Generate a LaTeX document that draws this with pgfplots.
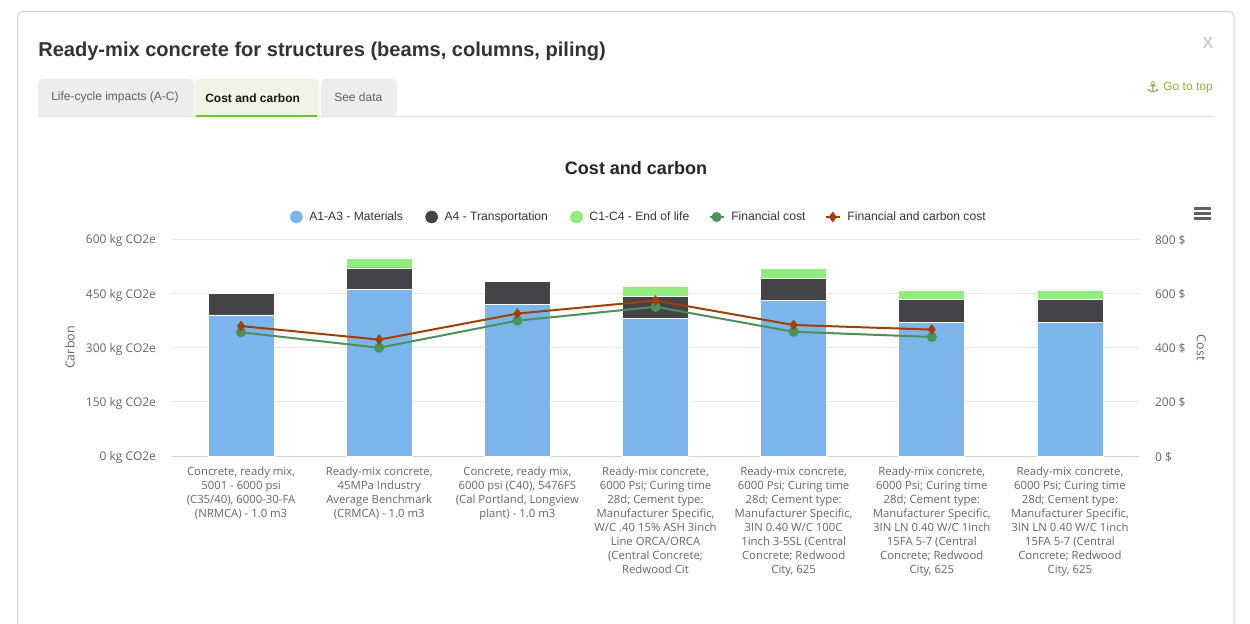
\documentclass[border=0pt]{standalone}
\usepackage{fontspec}
\usepackage{pgfplots}
\pgfplotsset{compat=1.18}
\setmainfont{Liberation Sans}
\newfontfamily\lab{Open Sans}
\newfontfamily\sym{DejaVu Sans}
\definecolor{cMat}{HTML}{7CB5EC}
\definecolor{cTrans}{HTML}{434348}
\definecolor{cEnd}{HTML}{90ED7D}
\definecolor{cFin}{HTML}{4C9159}
\definecolor{cCarb}{HTML}{A04000}
\definecolor{cGrid}{HTML}{E6E6E6}
\definecolor{cAxis}{HTML}{CCD6EB}
\definecolor{cTick}{HTML}{666666}
\definecolor{cText}{HTML}{333333}
\definecolor{cLime}{HTML}{8DB33C}
\pgfplotsset{
  dotlegend/.style={legend image code/.code={\fill[##1] (0pt,0pt) circle (4.5pt);}},
  linelegend/.style={legend image code/.code={%
    \draw[mark repeat=2,mark phase=2,##1] plot coordinates {(0pt,0pt) (5.25pt,0pt) (10.5pt,0pt)};}},
  common/.style={
    scale only axis, width=725.25pt, height=162.75pt,
    at={(129pt,-342pt)}, anchor=south west,
    xmin=-0.5, xmax=6.5, ymin=0,
    xtick style={draw=none}, ytick style={draw=none},
    xticklabel style={font=\lab\fontsize{8.5}{10.55}\selectfont, text=cTick},
    yticklabel style={font=\lab\fontsize{9}{11}\selectfont, text=cTick},
    label style={font=\lab\fontsize{9.4}{11}\selectfont, text=cTick},
  },
}
\begin{document}
\begin{tikzpicture}
\path[use as bounding box, fill=white] (0pt,0pt) rectangle (937.5pt,-468pt);
% page furniture, coordinates in reference pixels
\begin{scope}[x=0.75pt,y=-0.75pt]
  \draw[black!18, line width=0.75pt, rounded corners=4pt] (17.5,623.5) -- (17.5,11.5) -- (1234,11.5) -- (1234,623.5);
  \node[anchor=west, inner sep=0pt, text=cText, font=\bfseries\fontsize{15.05}{18}\selectfont] at (38,51.5) {Ready-mix concrete for structures (beams, columns, piling)};
  \fill[black!7] (38,116) [rounded corners=3pt] -- (38,79) -- (194,79) -- (194,116) [sharp corners] -- cycle;
  \fill[cLime!14] (195,116) [rounded corners=3pt] -- (195,79) -- (319,79) -- (319,116) [sharp corners] -- cycle;
  \fill[black!7] (321,116) [rounded corners=3pt] -- (321,79) -- (397,79) -- (397,116) [sharp corners] -- cycle;
  \draw[black!12, line width=0.75pt] (38,116.5) -- (1214,116.5);
  \draw[cLime!80!green, line width=1.5pt] (196,116) -- (317,116);
  \node[anchor=west, inner sep=0pt, text=black!62, font=\fontsize{9}{11}\selectfont] at (51,97) {Life-cycle impacts (A-C)};
  \node[anchor=west, inner sep=0pt, text=black!90, font=\bfseries\fontsize{9}{11}\selectfont] at (205,98) {Cost and carbon};
  \node[anchor=west, inner sep=0pt, text=black!62, font=\fontsize{9}{11}\selectfont] at (334,97) {See data};
  \node[anchor=east, inner sep=0pt, text=cLime, font=\fontsize{9}{11}\selectfont] at (1213,88) {Go to top};
  \node[inner sep=0pt, text=cLime!85!black, font=\sym\bfseries\fontsize{11}{13}\selectfont] at (1153,87) {⚓};
  \node[inner sep=0pt, text=black!20, font=\bfseries\fontsize{12}{14}\selectfont] at (1208,42.5) {X};
  \node[inner sep=0pt, text=black!85, font=\bfseries\fontsize{13.5}{16}\selectfont] at (636,168) {Cost and carbon};
  \draw[black!62, line width=2.1pt] (1194,208.5) -- (1211,208.5) (1194,213.5) -- (1211,213.5) (1194,218.5) -- (1211,218.5);
\end{scope}
% stacked carbon bars
\begin{axis}[common,
  ymax=600,
  ybar stacked, bar width=49.5pt,
  xtick={0,...,6},
  xticklabels={
    {Concrete, ready mix,\\5001 - 6000 psi\\(C35/40), 6000-30-FA\\(NRMCA) - 1.0 m3},
    {Ready-mix concrete,\\45MPa Industry\\Average Benchmark\\(CRMCA) - 1.0 m3},
    {Concrete, ready mix,\\6000 psi (C40), 5476FS\\(Cal Portland, Longview\\plant) - 1.0 m3},
    {Ready-mix concrete,\\6000 Psi; Curing time\\28d; Cement type:\\Manufacturer Specific,\\W/C .40 15\% ASH 3inch\\Line ORCA/ORCA\\(Central Concrete;\\Redwood Cit},
    {Ready-mix concrete,\\6000 Psi; Curing time\\28d; Cement type:\\Manufacturer Specific,\\3IN 0.40 W/C 100C\\1inch 3-5SL (Central\\Concrete; Redwood\\City, 625},
    {Ready-mix concrete,\\6000 Psi; Curing time\\28d; Cement type:\\Manufacturer Specific,\\3IN LN 0.40 W/C 1inch\\15FA 5-7 (Central\\Concrete; Redwood\\City, 625},
    {Ready-mix concrete,\\6000 Psi; Curing time\\28d; Cement type:\\Manufacturer Specific,\\3IN LN 0.40 W/C 1inch\\15FA 5-7 (Central\\Concrete; Redwood\\City, 625}},
  xticklabel style={align=center, anchor=north, yshift=-4.5pt},
  ytick={0,150,300,450,600},
  yticklabels={0 kg CO2e,150 kg CO2e,300 kg CO2e,450 kg CO2e,600 kg CO2e},
  yticklabel style={xshift=-8.5pt, yshift=-1.3pt},
  ymajorgrids, grid style={cGrid, line width=0.75pt},
  axis x line*=bottom, axis y line*=left,
  x axis line style={draw=cAxis, line width=0.75pt, -},
  y axis line style={draw=none},
  ylabel={Carbon},
  ylabel style={at={(axis description cs:-0.1055,0.5)}, anchor=center, rotate=0},
]
\addplot[fill=cMat, draw=white, line width=0.6pt] coordinates {(0,390) (1,460) (2,420) (3,380) (4,430) (5,370) (6,370)};
\addplot[fill=cTrans, draw=white, line width=0.6pt] coordinates {(0,60) (1,60) (2,63) (3,60) (4,60) (5,62) (6,62)};
\addplot[fill=cEnd, draw=white, line width=0.6pt] coordinates {(0,0) (1,27) (2,0) (3,28) (4,29) (5,27) (6,27)};
\end{axis}
% cost lines, right axis
\begin{axis}[common,
  ymax=800,
  xtick=\empty,
  ytick={0,200,400,600,800},
  yticklabels={0 \$,200 \$,400 \$,600 \$,800 \$},
  yticklabel style={xshift=8.5pt, yshift=-0.6pt},
  axis x line=none, axis y line*=right,
  y axis line style={draw=none},
  ylabel={Cost},
  ylabel style={at={(axis description cs:1.0645,0.5)}, anchor=center, rotate=180},
  legend columns=-1,
  legend cell align=left,
  legend style={draw=none, fill=none, at={(0.4832,1.1015)}, anchor=center,
    font=\fontsize{9.1}{11}\selectfont, text=cText, inner sep=0pt,
    /tikz/every even column/.append style={column sep=14.75pt},
    /tikz/every odd column/.append style={column sep=3pt}},
]
\addlegendimage{dotlegend, cMat}
\addlegendentry{A1-A3 - Materials}
\addlegendimage{dotlegend, cTrans}
\addlegendentry{A4 - Transportation}
\addlegendimage{dotlegend, cEnd}
\addlegendentry{C1-C4 - End of life\hspace*{-2.25pt}}
\addplot[linelegend, cFin, line width=1.5pt, mark=*, mark size=3pt, mark options={solid, draw=cFin, fill=cFin}]
  coordinates {(0,456) (1,399) (2,499) (3,550) (4,458) (5,439)};
\addlegendentry{Financial cost\hspace*{-2.25pt}}
\addplot[linelegend, cCarb, line width=1.5pt, mark=diamond*, mark size=2.8pt, mark options={solid, draw=cCarb, fill=cCarb}]
  coordinates {(0,479) (1,429) (2,525) (3,573) (4,483) (5,466)};
\addlegendentry{Financial and carbon cost}
\end{axis}
\end{tikzpicture}
\end{document}
